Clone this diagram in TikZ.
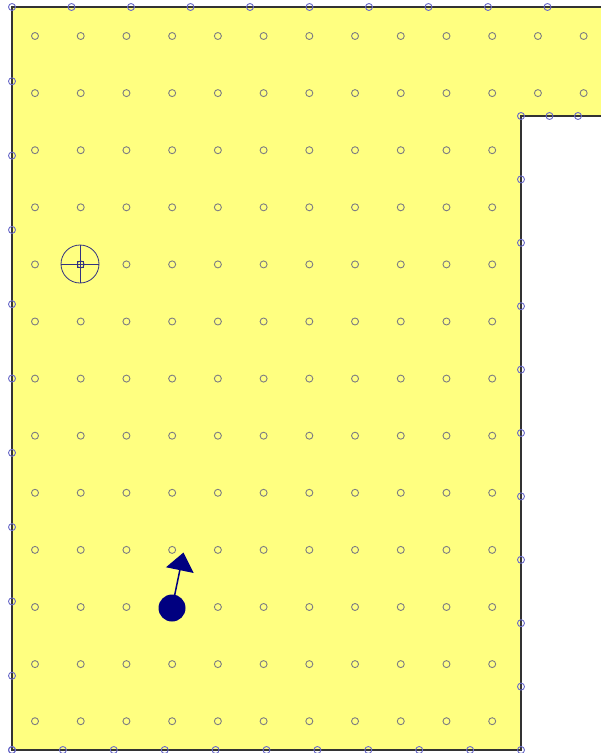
\documentclass[tikz,border=0pt]{standalone}
\usetikzlibrary{arrows.meta,calc}
\definecolor{floor}{RGB}{255,255,128}
\definecolor{gridpt}{RGB}{125,125,130}
\definecolor{wallpt}{RGB}{105,105,200}
\definecolor{robot}{RGB}{0,0,128}
\tikzset{
  gridmark/.style={draw=gridpt,line width=0.9pt},
  wallmark/.style={draw=wallpt,line width=0.9pt},
  wall/.style={draw=black!80,line width=1.4pt},
}
\begin{document}
\begin{tikzpicture}[x=1pt,y=-1pt]
\useasboundingbox (0,0) rectangle (601,753);
% floor area and walls
\fill[floor] (601,7) -- (12,7) -- (12,750) -- (521,750) -- (521,116) -- (601,116) -- cycle;
\draw[wall] (601,7) -- (12,7) -- (12,750) -- (521,750) -- (521,116) -- (601,116);
% grid of sample points
\foreach \j in {0,...,12} {
  \ifnum\j<2 \def\last{12}\else\def\last{10}\fi
  \foreach \i in {0,...,\last}
    \draw[gridmark] ({35+45.72*\i},{36+57.1*\j}) circle (3.5);
}
% points on the walls
\foreach \k in {0,...,9} \draw[wallmark] ({12+59.5*\k},7) circle (3.5);
\foreach \k in {1,...,10} \draw[wallmark] (12,{7+74.3*\k}) circle (3.5);
\foreach \k in {0,...,10} \draw[wallmark] ({12+50.9*\k},750) circle (3.5);
\foreach \k in {0,...,9} \draw[wallmark] (521,{116+63.4*\k}) circle (3.5);
\foreach \k in {1,2} \draw[wallmark] ({521+28.5*\k},116) circle (3.5);
% target
\coordinate (goal) at (80,264);
\draw[draw=robot!60!gray,line width=0.8pt] (goal) circle (19);
\draw[draw=robot!60!gray,line width=0.8pt] ($(goal)+(-19,0)$) -- ($(goal)+(19,0)$)
  ($(goal)+(0,-19)$) -- ($(goal)+(0,19)$);
\draw[draw=robot!60!gray,line width=0.8pt] ($(goal)+(-3,-3)$) rectangle ($(goal)+(3,3)$);
% robot and heading
\node[circle,fill=robot,minimum size=27pt,inner sep=0pt] (bot) at (172,608) {};
\coordinate (head) at (183.5,552.5);
\draw[robot,line width=1.5pt,-{Triangle[length=18pt,width=28pt]}] (bot.center) -- (head);
\end{tikzpicture}
\end{document}
